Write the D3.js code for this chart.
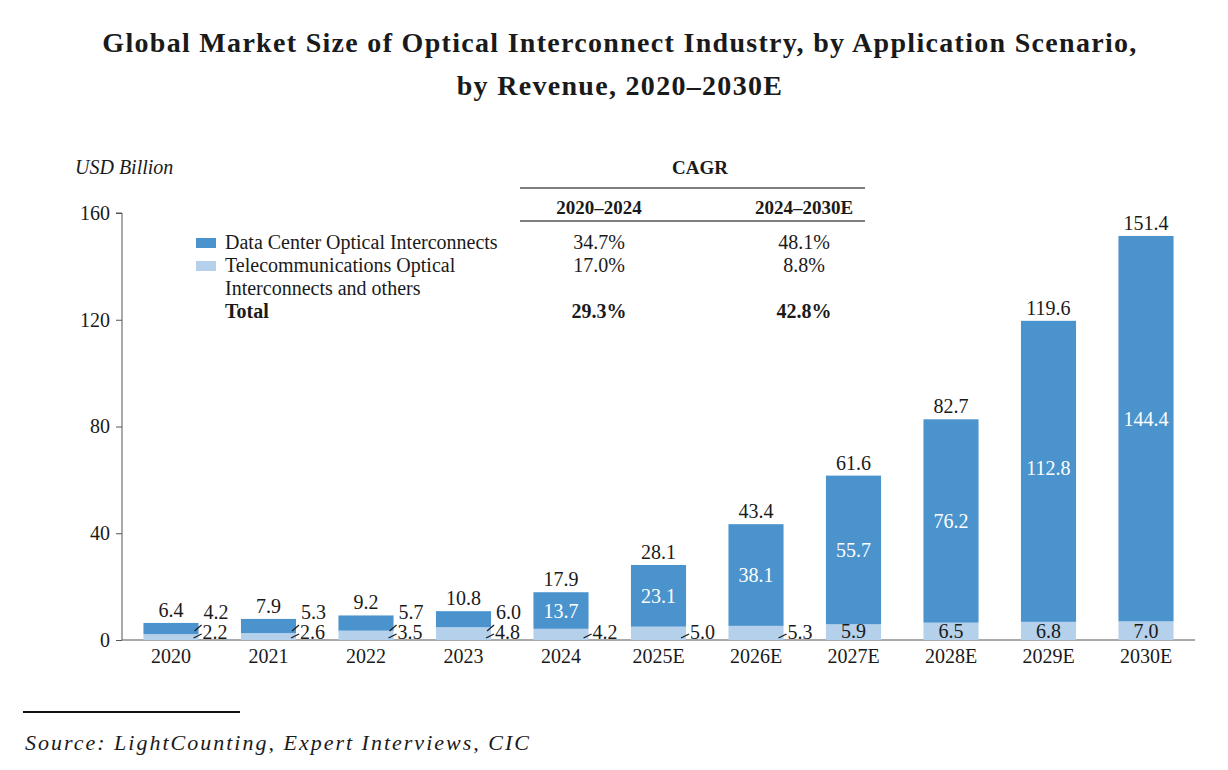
<!DOCTYPE html>
<html>
<head>
<meta charset="utf-8">
<script src="https://cdn.jsdelivr.net/npm/d3@7"></script>
<style>
  body { margin: 0; background: #fff; }
  text { font-family: 'Liberation Serif', 'Times New Roman', serif; fill: #1a1a1a; }
</style>
</head>
<body>
<div id="chart"></div>
<script>
const years = ['2020', '2021', '2022', '2023', '2024', '2025E', '2026E', '2027E', '2028E', '2029E', '2030E']
const dataCenter = [4.2, 5.3, 5.7, 6.0, 13.7, 23.1, 38.1, 55.7, 76.2, 112.8, 144.4]
const telecom = [2.2, 2.6, 3.5, 4.8, 4.2, 5.0, 5.3, 5.9, 6.5, 6.8, 7.0]
const totals = [6.4, 7.9, 9.2, 10.8, 17.9, 28.1, 43.4, 61.6, 82.7, 119.6, 151.4]
const yTicks = [0, 40, 80, 120, 160]

const cagrHeaders = ['2020–2024', '2024–2030E']
const legendNames = ['Data Center Optical Interconnects', 'Telecommunications Optical', 'Interconnects and others', 'Total']
const cagrFirst = ['34.7%', '17.0%', '', '29.3%']
const cagrSecond = ['48.1%', '8.8%', '', '42.8%']

const dcColor = '#4a93cd'
const telColor = '#b4d0ea'

let width = 1228
let height = 770

let svg = d3
  .select('#chart')
  .append('svg')
  .attr('width', width)
  .attr('height', height)

// title
let title = svg.append('g').attr('font-weight', 'bold').attr('font-size', 28).attr('text-anchor', 'middle')
title.append('text').attr('x', 620).attr('y', 52).attr('letter-spacing', 1.3)
  .text('Global Market Size of Optical Interconnect Industry, by Application Scenario,')
title.append('text').attr('x', 620).attr('y', 95).attr('letter-spacing', 1.3)
  .text('by Revenue, 2020–2030E')

let x = d3.scaleBand().domain(years).range([122, 1195]).paddingInner(0.435).paddingOuter(0.22)
let y = d3.scaleLinear().domain([0, 160]).range([640, 213])

let rows = years.map((yr, i) => ({ yr, dc: dataCenter[i], tel: telecom[i], total: totals[i], i }))

// y axis
let yAxis = svg.append('g')
  .attr('transform', 'translate(122,0)')
  .call(d3.axisLeft(y).tickValues(yTicks).tickSize(6).tickPadding(6))
yAxis.select('.domain').attr('stroke', '#555').attr('d', `M-6,${y(160)}H0V${y(0)}`)
yAxis.selectAll('.tick line').attr('stroke', '#555')
yAxis.selectAll('.tick text').attr('font-size', 20).attr('fill', '#1a1a1a')

// x axis
let xAxis = svg.append('g')
  .attr('transform', `translate(0,${y(0)})`)
  .call(d3.axisBottom(x).tickSize(0).tickPadding(9))
xAxis.select('.domain').attr('stroke', '#555').attr('d', 'M122,0H1195')
xAxis.selectAll('.tick text').attr('font-size', 20).attr('fill', '#1a1a1a')

svg.append('text').attr('x', 75).attr('y', 174).attr('font-style', 'italic').attr('font-size', 20).text('USD Billion')

// bars
let bars = svg.append('g')
bars.selectAll('.tel')
  .data(rows)
  .enter()
  .append('rect')
  .attr('class', 'tel')
  .attr('x', d => x(d.yr))
  .attr('width', x.bandwidth())
  .attr('y', d => y(d.tel))
  .attr('height', d => y(0) - y(d.tel))
  .attr('fill', telColor)

bars.selectAll('.dc')
  .data(rows)
  .enter()
  .append('rect')
  .attr('class', 'dc')
  .attr('x', d => x(d.yr))
  .attr('width', x.bandwidth())
  .attr('y', d => y(d.tel + d.dc))
  .attr('height', d => y(d.tel) - y(d.tel + d.dc))
  .attr('fill', dcColor)

// labels
let labels = svg.append('g').attr('font-size', 20)

labels.selectAll('.total')
  .data(rows)
  .enter()
  .append('text')
  .attr('x', d => x(d.yr) + x.bandwidth() / 2)
  .attr('y', d => y(d.total) - 6)
  .attr('text-anchor', 'middle')
  .text(d => d.total.toFixed(1))

rows.forEach(d => {
  let x0 = x(d.yr)
  let x1 = x0 + x.bandwidth()
  let cx = x0 + x.bandwidth() / 2
  let g = labels.append('g')

  // data center label
  if (d.i < 4) {
    g.append('line').attr('x1', x1 - 4).attr('y1', y(0) - 9).attr('x2', x1 + 3).attr('y2', y(0) - 15)
      .attr('stroke', '#1a1a1a').attr('stroke-width', 1.2)
    g.append('text').attr('x', x1 + 5).attr('y', y(0) - 21).text(d.dc.toFixed(1))
  } else {
    let mid = (y(d.tel) + y(d.tel + d.dc)) / 2
    let shift = Math.max(0, (y(d.tel) - y(d.tel + d.dc)) - 250) * 0.07
    g.append('text').attr('x', cx).attr('y', mid + 7 - shift)
      .attr('text-anchor', 'middle').style('fill', '#fff').text(d.dc.toFixed(1))
  }

  // telecom label
  if (d.i < 7) {
    g.append('line').attr('x1', x1 - 5).attr('y1', y(0) - 2).attr('x2', x1 + 3).attr('y2', y(0) - 6)
      .attr('stroke', '#1a1a1a').attr('stroke-width', 1.2)
    g.append('text').attr('x', x1 + 4).attr('y', y(0) - 1).text(d.tel.toFixed(1))
  } else {
    g.append('text').attr('x', cx).attr('y', y(0) - 2).attr('text-anchor', 'middle').text(d.tel.toFixed(1))
  }
})

// CAGR table / legend
let table = svg.append('g').attr('font-size', 20)
table.append('text').attr('x', 700).attr('y', 174).attr('text-anchor', 'middle').attr('font-weight', 'bold').attr('font-size', 19).text('CAGR')
table.append('line').attr('x1', 520).attr('x2', 865).attr('y1', 188).attr('y2', 188).attr('stroke', '#555').attr('stroke-width', 1.5)
table.append('line').attr('x1', 520).attr('x2', 865).attr('y1', 221).attr('y2', 221).attr('stroke', '#555').attr('stroke-width', 1.5)

let colX = [599, 804]
cagrHeaders.forEach((h, i) => {
  table.append('text').attr('x', colX[i]).attr('y', 214).attr('text-anchor', 'middle').attr('font-weight', 'bold').attr('font-size', 19).text(h)
})

legendNames.forEach((name, i) => {
  let yy = 249 + i * 23
  let bold = i === 3 ? 'bold' : 'normal'
  table.append('text').attr('x', 225).attr('y', yy).attr('font-weight', bold).text(name)
  table.append('text').attr('x', colX[0]).attr('y', yy).attr('text-anchor', 'middle').attr('font-weight', bold).text(cagrFirst[i])
  table.append('text').attr('x', colX[1]).attr('y', yy).attr('text-anchor', 'middle').attr('font-weight', bold).text(cagrSecond[i])
})
table.append('rect').attr('x', 196).attr('y', 238).attr('width', 20).attr('height', 10).attr('fill', dcColor)
table.append('rect').attr('x', 196).attr('y', 261).attr('width', 20).attr('height', 10).attr('fill', telColor)

// source
svg.append('line').attr('x1', 23).attr('x2', 240).attr('y1', 712).attr('y2', 712).attr('stroke', '#111').attr('stroke-width', 2)
svg.append('text').attr('x', 25).attr('y', 750).attr('font-style', 'italic').attr('font-size', 22).attr('letter-spacing', 2)
  .text('Source: LightCounting, Expert Interviews, CIC')
</script>
</body>
</html>
